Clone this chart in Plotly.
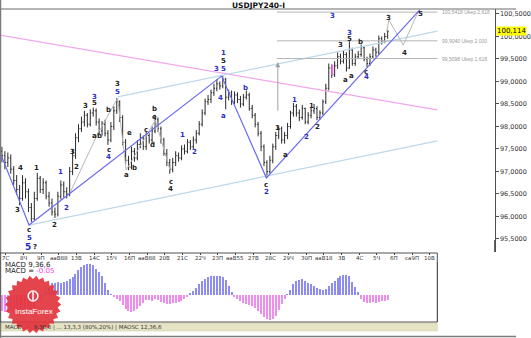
import numpy as np
import plotly.graph_objects as go

W, H = 531, 338

# ---------------- data (USDJPY 4H) ----------------
opens = [97.45, 97.35, 97.20, 97.30, 97.05, 96.80, 96.60, 96.40, 96.75, 96.55, 96.20,
         95.95, 96.40, 96.85, 96.60, 96.75, 96.45, 96.30, 96.10,
         96.05, 96.45, 96.70, 96.55, 96.50, 97.00,
         97.35, 97.75, 97.95, 98.10, 98.25, 98.05, 98.30,
         98.35, 98.10, 97.90, 98.05, 97.85, 97.70, 98.00, 98.35,
         98.55, 98.20, 97.65, 97.25, 97.10, 97.45,
         97.30, 97.60, 97.75, 97.55, 97.80, 97.70, 97.90, 98.15,
         97.95, 97.70, 97.40, 97.20,
         97.05, 97.20, 97.35, 97.30, 97.50, 97.45, 97.65, 97.55, 97.70,
         97.85, 98.05, 98.30, 98.55, 98.60, 98.75, 98.85, 98.95, 98.90,
         99.05, 98.65, 98.75, 98.55, 98.70, 98.60, 98.50, 98.65, 98.70, 98.40, 98.25,
         98.05, 97.85, 97.55, 97.20,
         97.00, 97.25, 97.55, 97.80, 97.95, 97.70, 97.80, 98.00, 98.30,
         98.45, 98.30, 98.20, 98.40, 98.10, 98.25, 98.35, 98.40, 98.20, 98.30,
         98.55, 98.85, 99.30,
         99.15, 99.35, 99.55, 99.45, 99.60, 99.30, 99.70, 99.40, 99.55, 99.60,
         99.75, 99.50, 99.40, 99.55, 99.70, 99.65, 99.95, 99.90, 100.00]
highs = [97.55, 97.45, 97.42, 97.38, 97.12, 96.92, 96.70, 96.92, 96.85, 96.62, 96.30,
         96.55, 96.97, 96.90, 96.85, 96.80, 96.55, 96.40, 96.20,
         96.55, 96.80, 96.78, 96.65, 97.10, 97.50,
         97.85, 98.05, 98.22, 98.35, 98.30, 98.38, 98.42,
         98.40, 98.18, 98.12, 98.15, 97.92, 98.10, 98.45, 98.63,
         98.58, 98.25, 97.72, 97.35, 97.55, 97.52,
         97.70, 97.85, 97.80, 97.88, 97.85, 98.00, 98.26, 98.20,
         98.00, 97.75, 97.50, 97.28,
         97.30, 97.45, 97.42, 97.58, 97.60, 97.72, 97.70, 97.78, 97.92,
         98.12, 98.38, 98.62, 98.70, 98.82, 98.95, 99.05, 99.00, 99.12,
         99.08, 98.82, 98.80, 98.78, 98.76, 98.68, 98.72, 98.80, 98.75, 98.48, 98.30,
         98.10, 97.90, 97.60, 97.25,
         97.35, 97.62, 97.88, 98.02, 98.00, 97.88, 98.08, 98.35, 98.52,
         98.50, 98.38, 98.48, 98.42, 98.32, 98.42, 98.50, 98.45, 98.36, 98.60,
         98.95, 99.40, 99.38,
         99.45, 99.65, 99.62, 99.68, 99.65, 99.92, 99.75, 99.62, 99.68, 99.82,
         99.78, 99.55, 99.62, 99.78, 99.75, 100.02, 100.00, 100.08, 100.15]
lows = [97.20, 97.05, 97.10, 96.95, 96.70, 96.48, 96.25, 96.35, 96.40, 96.10, 95.88,
        95.92, 96.35, 96.52, 96.50, 96.38, 96.22, 96.02, 95.97,
        96.00, 96.38, 96.42, 96.40, 96.45, 96.92,
        97.28, 97.65, 97.88, 98.00, 97.98, 98.00, 98.22,
        98.02, 97.82, 97.80, 97.78, 97.59, 97.65, 97.92, 98.28,
        98.10, 97.58, 97.15, 97.03, 97.05, 97.22,
        97.25, 97.52, 97.48, 97.48, 97.62, 97.62, 97.85, 97.88,
        97.62, 97.35, 97.12, 96.95,
        96.98, 97.12, 97.22, 97.25, 97.38, 97.40, 97.48, 97.50, 97.62,
        97.80, 98.00, 98.25, 98.48, 98.52, 98.68, 98.78, 98.82, 98.85,
        98.38, 98.58, 98.48, 98.50, 98.52, 98.42, 98.45, 98.60, 98.35, 98.18, 97.98,
        97.78, 97.45, 97.12, 96.86,
        96.95, 97.18, 97.48, 97.72, 97.62, 97.62, 97.72, 97.95, 98.22,
        98.22, 98.12, 98.15, 98.05, 98.05, 98.18, 98.28, 98.14, 98.15, 98.25,
        98.50, 98.80, 99.08,
        99.10, 99.28, 99.38, 99.40, 99.22, 99.28, 99.35, 99.35, 99.50, 99.55,
        99.45, 99.32, 99.35, 99.52, 99.55, 99.60, 99.82, 99.85, 99.95]
closes = [97.35, 97.20, 97.30, 97.05, 96.80, 96.60, 96.40, 96.75, 96.55, 96.20, 95.95,
          96.40, 96.85, 96.60, 96.75, 96.45, 96.30, 96.10, 96.05,
          96.45, 96.70, 96.55, 96.50, 97.00, 97.35,
          97.75, 97.95, 98.10, 98.25, 98.05, 98.30, 98.35,
          98.10, 97.90, 98.05, 97.85, 97.70, 98.00, 98.35, 98.55,
          98.20, 97.65, 97.25, 97.10, 97.45, 97.30,
          97.60, 97.75, 97.55, 97.80, 97.70, 97.90, 98.15, 97.95,
          97.70, 97.40, 97.20, 97.05,
          97.20, 97.35, 97.30, 97.50, 97.45, 97.65, 97.55, 97.70, 97.85,
          98.05, 98.30, 98.55, 98.60, 98.75, 98.85, 98.95, 98.90, 99.05,
          98.65, 98.75, 98.55, 98.70, 98.60, 98.50, 98.65, 98.70, 98.40, 98.25, 98.05,
          97.85, 97.55, 97.20, 97.00,
          97.25, 97.55, 97.80, 97.95, 97.70, 97.80, 98.00, 98.30, 98.45,
          98.30, 98.20, 98.40, 98.10, 98.25, 98.35, 98.40, 98.20, 98.30, 98.55,
          98.85, 99.30, 99.15,
          99.35, 99.55, 99.45, 99.60, 99.30, 99.70, 99.40, 99.55, 99.60, 99.75,
          99.50, 99.40, 99.55, 99.70, 99.65, 99.95, 99.90, 100.00, 100.11]
macd_hist = [-0.16, -0.17, -0.16, -0.15, -0.15, -0.15, -0.16, -0.14, -0.13, -0.14, -0.15,
             -0.12, -0.07, -0.04, -0.01, 0.03, 0.07, 0.12, 0.12,
             0.13, 0.12, 0.13, 0.14, 0.16, 0.18,
             0.21, 0.25, 0.28, 0.30, 0.31, 0.31, 0.30,
             0.26, 0.23, 0.19, 0.12, 0.05, 0.01, -0.02, -0.04,
             -0.06, -0.10, -0.14, -0.16, -0.17, -0.16,
             -0.14, -0.11, -0.08, -0.05, -0.05, -0.06, -0.04, -0.05,
             -0.07, -0.08, -0.09, -0.09,
             -0.08, -0.08, -0.07, -0.06, -0.04, -0.02, 0.02, 0.04, 0.07,
             0.11, 0.14, 0.16, 0.18, 0.19, 0.19, 0.19, 0.19, 0.18,
             0.15, 0.09, 0.03, -0.02, -0.04, -0.06, -0.08, -0.09, -0.10, -0.11, -0.13,
             -0.16, -0.19, -0.22, -0.24,
             -0.25, -0.24, -0.21, -0.15, -0.09, -0.04, 0.01, 0.05, 0.11,
             0.14, 0.15, 0.16, 0.14, 0.12, 0.11, 0.09, 0.07, 0.06, 0.05,
             0.06, 0.09, 0.12,
             0.14, 0.17, 0.19, 0.20, 0.20, 0.19, 0.13, 0.08, 0.03, -0.04,
             -0.07, -0.08, -0.08, -0.07, -0.08, -0.07, -0.06, -0.06, -0.05]
assert len(opens) == len(highs) == len(lows) == len(closes) == len(macd_hist) == 132

date_labels = ["7C", "8Ч", "9П", "aaВ88", "13В", "14С", "15Ч", "16П", "aaВ88", "20В",
               "21С", "22Ч", "23П", "aaВ55", "27В", "28С", "29Ч", "30П", "aaВ18",
               "3В", "4С", "5Ч", "6П", "ca9П", "10В"]
price_ticks = [95.5, 96.0, 96.5, 97.0, 97.5, 98.0, 98.5, 99.0, 99.5, 100.0, 100.5]

# trend / wave lines  (bar index, price)
blue_idx = [-0.66, 9.2, 74.6, 89.8, 141.9]
blue_px = [97.43, 95.81, 99.12, 96.86, 100.59]
pink_idx = [-0.66, 147.9]
pink_px = [100.03, 98.37]
pale_low_idx = [9.2, 147.9]
pale_low_px = [95.81, 97.68]
pale_up_idx = [39.3, 147.9]
pale_up_px = [98.66, 100.12]
gray_idx = [23.1, 32.3, 39.3, 42.2, 52.1, 57.1]
gray_px = [96.52, 97.81, 98.63, 97.03, 98.14, 97.03]
proj_idx = [130.7, 131.4, 136.3, 141.3]
proj_px = [100.10, 100.37, 99.81, 100.54]
fib_levels = [100.5418, 99.9040, 99.5098]
fib_texts = ["100,5418 Ukep 2,618", "99,9040 Ukep 2,000", "99,5098 Ukep 1,618"]
fib_span = [93.4, 147.9]
last_price = 100.114

# wave labels (bar index, price, text, colour key)
lab_idx = [6.3, 5.3, 9.2, 9.2, 11.9, 17.8, 19.8, 21.8, 23.8, 25.4, 28.4, 31.4, 31.4,
           31.4, 33.3, 36.3, 36.3, 36.3, 39.3, 39.3, 42.2, 44.9, 43.2, 48.8, 51.2,
           51.8, 51.8, 57.4, 57.4, 61.4, 65.3, 75.2, 75.2, 72.9, 75.2, 74.3, 75.2,
           82.8, 89.8, 89.8, 93.7, 96.4, 99.3, 103.3, 105.3, 107.3, 112.2, 114.9,
           118.2, 118.2, 121.8, 116.8, 118.8, 123.8, 123.8, 131.4, 136.6, 142.2]
lab_px = [97.08, 96.14, 95.70, 95.52, 97.08, 95.81, 96.99, 96.19, 97.43, 97.10, 98.46,
          98.66, 98.52, 97.79, 97.79, 98.37, 97.48, 97.32, 98.94, 98.77, 96.92, 97.08,
          97.86, 97.92, 97.59, 98.39, 98.21, 96.77, 96.61, 97.81, 97.43, 99.63, 99.46,
          99.28, 99.28, 98.63, 98.23, 98.86, 96.70, 96.54, 97.97, 97.37, 98.59, 97.77,
          98.46, 97.99, 100.46, 99.81, 100.08, 99.94, 99.88, 99.03, 99.12, 99.21,
          99.10, 100.41, 99.63, 100.50]
lab_txt = ["4", "3", "c", "5", "1", "2", "1", "2", "3", "2", "3", "3", "5", "a", "b",
           "b", "c", "4", "3", "5", "a", "b", "e", "c", "d", "b", "e", "c", "4", "1",
           "2", "1", "5", "3", "5", "4", "a", "b", "c", "2", "1", "a", "1", "2", "1",
           "2", "3", "3", "3", "5", "b", "a", "a", "c", "4", "3", "4", "5"]
lab_col = ["k", "k", "k", "b", "k", "k", "b", "b", "k", "k", "k", "b", "k", "k", "k",
           "k", "k", "b", "k", "b", "k", "k", "k", "k", "k", "k", "k", "k", "k", "b",
           "b", "b", "k", "b", "b", "b", "b", "b", "k", "b", "k", "k", "b", "b", "k",
           "k", "b", "k", "b", "k", "k", "k", "k", "k", "b", "k", "k", "k"]

# ---------------- helpers ----------------
def px(x):
    return x / W


def py(y):
    return 1 - y / H


idx = list(range(len(closes)))
X_MAIN = [-0.66, 167.33]
X_MACD = [-0.66, 147.85]
Y_MAIN = [95.211, 100.611]
FONT = "DejaVu Sans"
BLUE_TXT = "#2d2dc8"
tick_pos = [1.3 + 6 * k for k in range(len(date_labels))]

fig = go.Figure()

# lines under bars
fig.add_trace(go.Scatter(x=pink_idx, y=pink_px, mode="lines",
                         line=dict(color="#f2a6ef", width=1.2), hoverinfo="skip"))
fig.add_trace(go.Scatter(x=pale_low_idx, y=pale_low_px, mode="lines",
                         line=dict(color="#bcd8ea", width=1.2), hoverinfo="skip"))
fig.add_trace(go.Scatter(x=pale_up_idx, y=pale_up_px, mode="lines",
                         line=dict(color="#bcd8ea", width=1.2), hoverinfo="skip"))
for lv in fib_levels:
    fig.add_trace(go.Scatter(x=fib_span, y=[lv, lv], mode="lines",
                             line=dict(color="#b4b4b4", width=1), hoverinfo="skip"))
fig.add_trace(go.Scatter(x=gray_idx, y=gray_px, mode="lines",
                         line=dict(color="#b8b8b8", width=1), hoverinfo="skip"))
fig.add_trace(go.Scatter(x=proj_idx, y=proj_px, mode="lines",
                         line=dict(color="#b8b8b8", width=1), hoverinfo="skip"))

fig.add_trace(go.Ohlc(x=idx, open=opens, high=highs, low=lows, close=closes,
                      increasing=dict(line=dict(color="#2a2a2a", width=1)),
                      decreasing=dict(line=dict(color="#2a2a2a", width=1)),
                      tickwidth=0.35, hoverinfo="skip"))

fig.add_trace(go.Scatter(x=blue_idx, y=blue_px, mode="lines",
                         line=dict(color="#6a6af0", width=1.2), hoverinfo="skip"))
fig.add_trace(go.Scatter(x=[112.2, 112.2], y=[99.37, 99.14], mode="lines",
                         line=dict(color="#f070e8", width=2), hoverinfo="skip"))

# MACD histogram
fig.add_trace(go.Bar(x=idx, y=macd_hist, xaxis="x2", yaxis="y2", width=0.4,
                     marker=dict(color=["#8c8cf2" if v >= 0 else "#f08cf0" for v in macd_hist],
                                 line=dict(width=0)),
                     hoverinfo="skip"))

annotations = []
for i, p, t, c in zip(lab_idx, lab_px, lab_txt, lab_col):
    annotations.append(dict(x=i, y=p, xref="x", yref="y", text="<b>%s</b>" % t,
                            showarrow=False,
                            font=dict(family=FONT, size=7,
                                      color=BLUE_TXT if c == "b" else "#222222")))
# big "5 ?" under low
annotations.append(dict(x=9.0, y=95.32, xref="x", yref="y", text="<b>5</b>", showarrow=False,
                        font=dict(family=FONT, size=9, color=BLUE_TXT)))
annotations.append(dict(x=11.3, y=95.32, xref="x", yref="y", text="<b>?</b>", showarrow=False,
                        font=dict(family=FONT, size=7, color="#222222")))
# date labels
for tp, tl in zip(tick_pos, date_labels):
    annotations.append(dict(x=tp, y=py(257.5), xref="x", yref="paper", text=tl,
                            showarrow=False, xanchor="center", yanchor="middle",
                            font=dict(family=FONT, size=5.5, color="#333333")))
# fib labels
for lv, tx in zip(fib_levels, fib_texts):
    annotations.append(dict(x=fib_span[1] + 0.8, y=lv, xref="x", yref="y", text=tx,
                            xanchor="left", showarrow=False,
                            font=dict(family="Liberation Sans", size=5, color="#9a9a9a")))
# arrow
annotations.append(dict(x=93.7, y=99.43, ax=93.7, ay=98.32, xref="x", yref="y",
                        axref="x", ayref="y", text="", showarrow=True, arrowhead=2,
                        arrowsize=1, arrowwidth=1, arrowcolor="#a0a0a0"))
# current price box
annotations.append(dict(x=px(510), y=last_price, xref="paper", yref="y", text="100,114",
                        xanchor="left", showarrow=False, bgcolor="#ffff00", borderpad=0,
                        font=dict(family=FONT, size=7, color="#000000")))
# title
annotations.append(dict(x=px(266), y=py(5.5), xref="paper", yref="paper",
                        text="<b>USDJPY240-I</b>", showarrow=False, xanchor="center",
                        yanchor="middle",
                        font=dict(family=FONT, size=7.5, color="#111111")))
# MACD texts
annotations.append(dict(x=px(3), y=py(265), xref="paper", yref="paper", xanchor="left",
                        yanchor="middle", text="MACD 9,36,6", showarrow=False,
                        font=dict(family=FONT, size=7, color="#222222")))
annotations.append(dict(x=px(3), y=py(271), xref="paper", yref="paper", xanchor="left",
                        yanchor="middle",
                        text="MACD = <span style='color:#f040f0'>-0.05</span>",
                        showarrow=False, font=dict(family=FONT, size=7, color="#222222")))
annotations.append(dict(x=px(3), y=py(327), xref="paper", yref="paper", xanchor="left",
                        yanchor="middle",
                        text="MACD   ·   9,36,6 | ... 13,3,3 (80%,20%) | MAOSC 12,36,6",
                        showarrow=False, font=dict(family=FONT, size=5.5, color="#333333")))
# logo text
annotations.append(dict(x=px(35), y=py(311), xref="paper", yref="paper",
                        text="InstaForex", showarrow=False, xanchor="center",
                        yanchor="middle",
                        font=dict(family="Liberation Sans", size=8, color="#ffffff")))

shapes = []
# frame lines
shapes.append(dict(type="line", xref="paper", yref="paper", x0=0, x1=1, y0=py(9), y1=py(9),
                   line=dict(color="#6a6a6a", width=1)))
shapes.append(dict(type="line", xref="paper", yref="paper", x0=px(0.5), x1=px(0.5),
                   y0=0, y1=1, line=dict(color="#7a7a7a", width=1.5)))
shapes.append(dict(type="line", xref="paper", yref="paper", x0=0, x1=1,
                   y0=py(336.5), y1=py(336.5), line=dict(color="#7a7a7a", width=1.5)))
# date axis / MACD box
shapes.append(dict(type="rect", xref="paper", yref="paper", x0=0, x1=px(450),
                   y0=py(322), y1=py(253), line=dict(color="#505050", width=1)))
shapes.append(dict(type="rect", xref="paper", yref="paper", x0=0, x1=px(450),
                   y0=py(331), y1=py(323), fillcolor="#e6e2c4",
                   line=dict(color="#c8c4a8", width=0.5), layer="below"))
shapes.append(dict(type="line", xref="paper", yref="paper", x0=px(509), x1=px(509),
                   y0=py(252), y1=py(240), line=dict(color="#505050", width=1)))

# logo starburst (decoration)
n = 26
ang = np.linspace(0, 2 * np.pi, 2 * n, endpoint=False)
rad = np.where(np.arange(2 * n) % 2 == 0, 29.0, 25.5)
cx, cy = 34.0, 304.5
pts = ["%s%.5f,%.5f" % ("M" if k == 0 else "L", px(cx + r * np.cos(a)), py(cy + r * np.sin(a)))
       for k, (a, r) in enumerate(zip(ang, rad))]
shapes.append(dict(type="path", xref="paper", yref="paper", path=" ".join(pts) + " Z",
                   fillcolor="rgba(226,52,60,0.92)", line=dict(width=0), layer="above"))
shapes.append(dict(type="circle", xref="paper", yref="paper", x0=px(29), x1=px(39),
                   y0=py(301), y1=py(291), line=dict(color="#ffffff", width=1.5),
                   layer="above"))
shapes.append(dict(type="line", xref="paper", yref="paper", x0=px(34), x1=px(34),
                   y0=py(300), y1=py(292), line=dict(color="#ffffff", width=1.5),
                   layer="above"))

fig.update_layout(
    width=W, height=H, margin=dict(l=0, r=0, t=0, b=0),
    paper_bgcolor="#ffffff", plot_bgcolor="#ffffff", showlegend=False,
    xaxis=dict(domain=[0, px(509)], range=X_MAIN, anchor="y", showgrid=False,
               zeroline=False, showline=False, rangeslider=dict(visible=False),
               tickvals=tick_pos, showticklabels=False,
               ticks="outside", ticklen=2, tickcolor="#404040"),
    yaxis=dict(domain=[py(252), py(9)], range=Y_MAIN, anchor="x", side="right",
               showgrid=False, zeroline=False, showline=True, linecolor="#505050",
               tickvals=price_ticks,
               ticktext=[("%.4f" % v).replace(".", ",") for v in price_ticks],
               ticks="outside", ticklen=3, tickcolor="#505050",
               tickfont=dict(family=FONT, size=6.5, color="#333333")),
    xaxis2=dict(domain=[0, px(450)], range=X_MACD, anchor="y2", showgrid=False,
                zeroline=False, showticklabels=False, showline=False),
    yaxis2=dict(domain=[py(322), py(262)], range=[-0.27, 0.33], anchor="x2",
                showgrid=False, zeroline=False, showticklabels=False,
                showline=True, mirror=True, linecolor="#505050"),
    bargap=0, annotations=annotations, shapes=shapes,
)

fig.write_html("out.html")
